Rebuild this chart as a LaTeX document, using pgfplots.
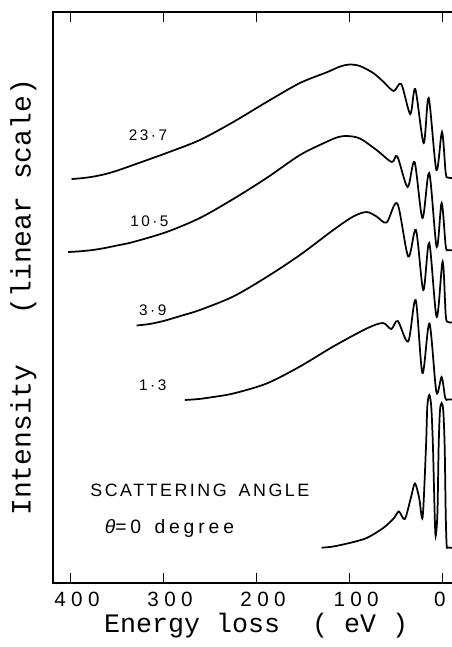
\documentclass[border=0pt]{standalone}
\usepackage{fontspec}
\setmainfont{Liberation Sans}
\setmonofont{Liberation Mono}
\newfontfamily\tickfont{Liberation Sans}
\newfontfamily\numfont[LetterSpace=16]{Liberation Sans}
\newfontfamily\notefont[LetterSpace=14]{Liberation Sans}
\newfontfamily\thetafont[LetterSpace=20]{Liberation Sans}
\usepackage{pgfplots}
\pgfplotsset{compat=1.18}

% Energy-loss spectra at several scattering angles, offset vertically
\pgfplotstableread{
E y
398.7 404
388 404.8
376 406.3
363 408.8
350 412.3
332.5 418
296.6 430
260.8 443
224.9 461
189 481
153.2 500
125 510.5
110 516.5
100 518.5
88.7 517
74.4 510
63.7 501.5
52.5 492
44.3 499
34.6 469
29.2 494
20.2 440
14.8 485
6.5 413
0.5 451
-3.5 410
-6 405.5
-12.4 405
}\angleA

\pgfplotstableread{
E y
402.3 331
390 331.7
376 333
363 335
350 337.5
332.5 341
296.6 351
260.8 365
224.9 384
189 405
153.2 428
125 441
112 446
102 447
88.7 444.5
70.8 433
54.5 421
48.5 426.5
37.5 396
30 421
21.5 365
14.2 410
6.2 336
0.9 380
-3.5 337
-6 333
-12.4 333
}\angleB

\pgfplotstableread{
E y
328.8 257.5
315 259
300 262
280 267.5
260.8 273
224.9 286.5
189 306
153.2 328
117.4 353
95.9 366.5
81.5 371
70.8 366.5
60 360.5
48.5 379.5
36.8 326.5
28.5 353
20.6 293
14.2 340
6.2 266
-0.2 321.5
-3.5 268
-6 261
-12.4 261
}\angleC

\pgfplotstableread{
E y
276.9 183
262 184
248 185.8
224.9 189.5
189 199.5
153.2 216.5
117.4 236.5
81.5 254.5
64 260
55 254
48 262
36.8 241.5
28.8 283
21.5 210
14 259.5
6.5 191
0.9 206
-3 185
-6 183.5
-12.4 183.5
}\angleD

\pgfplotstableread{
E y
129.9 35.3
117.4 36.5
100 40
81.5 45
63.7 55
52 65
46.8 71.5
40.5 64
34 85
29.6 99.5
25 85
21.3 66
17.7 136
16.3 176
14.2 188
12 176
10.2 136
8.4 70
7.3 47
5.4 70
4.1 136
2.7 172
0.9 180
-0.9 172
-2.4 136
-3.5 70
-4.5 38
-6 35.5
-12.4 35.3
}\angleE

\begin{document}
\begin{tikzpicture}
% the right-hand frame edge falls just outside the page and is cut away
\path[use as bounding box] (-39.5pt,-48pt) rectangle (299.5pt,437.3pt);
\begin{axis}[
  at={(0pt,0pt)}, anchor=south west,
  scale only axis, width=301pt, height=428.5pt,
  x dir=reverse,
  xmin=-12.35, xmax=419, ymin=0, ymax=571.3,
  axis line style={line width=1.4pt},
  xtick={400,300,200,100,0},
  xticklabels={4\kern4pt0\kern4pt0, 3\kern4pt0\kern4pt0,
    2\kern4pt0\kern4pt0, 1\kern4pt0\kern4pt0, \hspace*{-14pt}0},
  ytick=\empty,
  tick align=inside,
  major tick length=7.5pt,
  tick style={line width=1.2pt, black},
  xticklabel style={font=\tickfont\fontsize{15.5pt}{17pt}\selectfont,
    anchor=base, yshift=-17.8pt, xshift=5pt},
  xlabel={Energy loss\ \ ( eV )},
  xlabel style={font=\ttfamily\fontsize{20pt}{22pt}\selectfont,
    at={(axis description cs:0.507,0)}, anchor=base, yshift=-36.9pt},
  ylabel={Intensity\ \ \ (linear scale)},
  ylabel style={font=\ttfamily\fontsize{21pt}{23pt}\selectfont,
    at={([xshift=-16.5pt]axis description cs:0,0.5)}, anchor=base},
]
\addplot[black, line width=1.3pt, smooth, no marks] table {\angleA};
\addplot[black, line width=1.3pt, smooth, no marks] table {\angleB};
\addplot[black, line width=1.3pt, smooth, no marks] table {\angleC};
\addplot[black, line width=1.3pt, smooth, no marks] table {\angleD};
\addplot[black, line width=1.3pt, smooth, no marks] table {\angleE};

\node[anchor=base west, font=\numfont\fontsize{11.5pt}{13pt}\selectfont] at (axis cs:342,443) {23·7};
\node[anchor=base west, font=\numfont\fontsize{11.5pt}{13pt}\selectfont] at (axis cs:340.5,356.3) {10·5};
\node[anchor=base west, font=\numfont\fontsize{11.5pt}{13pt}\selectfont] at (axis cs:331,268) {3·9};
\node[anchor=base west, font=\numfont\fontsize{11.5pt}{13pt}\selectfont] at (axis cs:331,193) {1·3};
\node[anchor=base west, font=\notefont\fontsize{13.4pt}{15pt}\selectfont] at (axis cs:383.5,87) {SCATTERING\hspace{9pt}ANGLE};
\node[anchor=base west, font=\thetafont\fontsize{14.5pt}{16pt}\selectfont] at (axis cs:368,49.7) {{\itshape θ}=0\hspace{10pt}degree};
\end{axis}
\end{tikzpicture}
\end{document}
